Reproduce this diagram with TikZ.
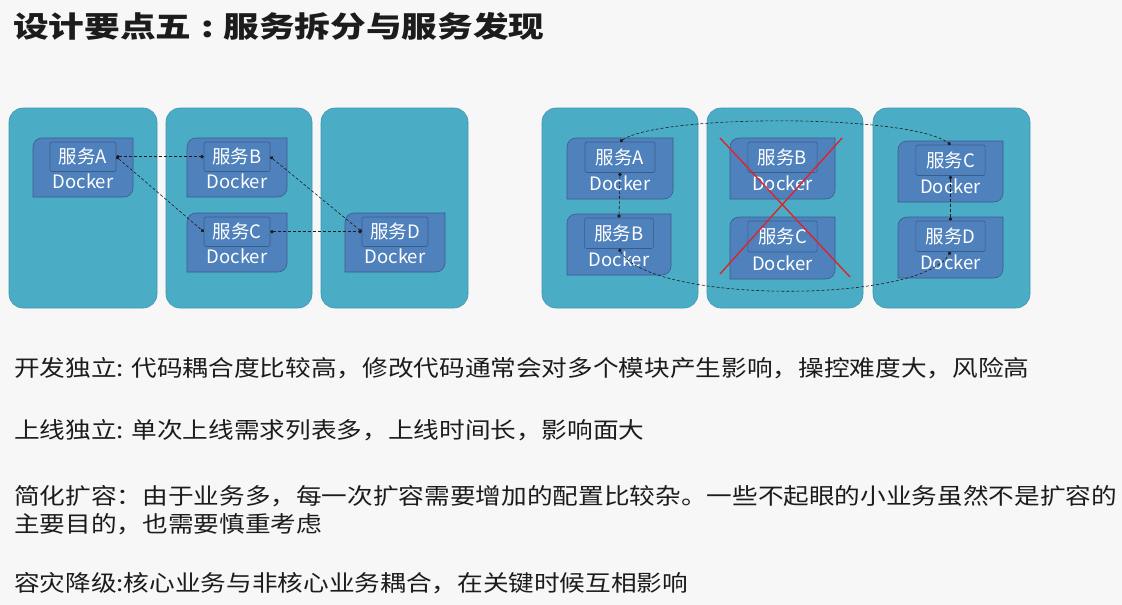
\documentclass[tikz,border=0pt]{standalone}
\usepackage{fontspec}
\setmainfont{Noto Sans CJK SC}
\newfontfamily\bodyfont{Noto Sans CJK SC}[FakeStretch=1.14]
\newfontfamily\titlefont{Noto Sans CJK SC}[FakeStretch=1.23]
\usetikzlibrary{arrows.meta}
\definecolor{bg}{RGB}{247,247,247}
\definecolor{panel}{RGB}{75,172,198}
\definecolor{panelline}{RGB}{62,150,176}
\definecolor{dock}{RGB}{79,129,189}
\definecolor{dockline}{RGB}{56,93,138}
\definecolor{crossred}{RGB}{218,38,44}
\definecolor{ink}{RGB}{28,28,28}
\tikzset{
  panelbox/.style={fill=panel, draw=panelline, line width=0.6pt, rounded corners=14},
  dockbox/.style={fill=dock, draw=dockline, line width=0.6pt},
  svcbox/.style={fill=dock, draw=dockline, line width=0.6pt, rounded corners=2, inner sep=0pt,
    text=white, font=\fontsize{18.5}{20}\selectfont},
  docktext/.style={text=white, inner sep=0pt, font=\fontsize{18.5}{20}\selectfont},
  link/.style={densely dashed, draw=ink, line width=0.6pt, {Circle[length=3.4pt]}-{Circle[length=3.4pt]}},
  crossline/.style={draw=crossred, line width=1.4pt},
  bodytext/.style={anchor=west, inner sep=0pt, text=ink, font=\bodyfont\fontsize{22.5}{27}\selectfont}
}
% name, x, y, w, h, label
\newcommand{\docker}[6]{%
  \filldraw[dockbox] (#2,-#3-9) arc[start angle=180, end angle=90, radius=9] -- (#2+#4,-#3)
    -- (#2+#4,-#3-#5+9) arc[start angle=0, end angle=-90, radius=9] -- (#2,-#3-#5) -- cycle;
  \node[svcbox, minimum width=0.66*#4, minimum height=0.5*#5] (#1) at (#2+0.5*#4,-#3-4-0.25*#5) {#6};
  \node[docktext] (#1d) at (#2+0.5*#4,-#3-0.74*#5) {Docker};
}
\begin{document}
\begin{tikzpicture}[x=1pt, y=1pt]
  \useasboundingbox (0,0) rectangle (1122,-605);
  \fill[bg] (0,0) rectangle (1122,-605);

  \node[anchor=west, inner sep=0pt, text=ink, font=\titlefont\fontsize{29}{34}\selectfont\bfseries] (title) at (13,-26) {设计要点五\makebox[1.1em]{:}服务拆分与服务发现};

  \draw[panelbox] (9,-108) rectangle (157,-308);
  \draw[panelbox] (166,-108) rectangle (312,-308);
  \draw[panelbox] (321,-108) rectangle (468,-308);
  \draw[panelbox] (542,-108) rectangle (698,-308);
  \draw[panelbox] (707,-108) rectangle (863,-308);
  \draw[panelbox] (873,-108) rectangle (1030,-308);

  \docker{lA}{33}{138}{100}{59}{服务A}
  \docker{lB}{187}{138}{100}{59}{服务B}
  \docker{lC}{187}{213}{100}{59}{服务C}
  \docker{lD}{345}{213}{100}{59}{服务D}

  \docker{rA}{567}{138}{106}{61}{服务A}
  \docker{rB}{567}{214}{104}{61}{服务B}
  \docker{xB}{730}{138}{105}{61}{服务B}
  \docker{xC}{730}{217}{105}{62}{服务C}
  \docker{rC}{898}{141}{105}{61}{服务C}
  \docker{rD}{898}{217}{105}{61}{服务D}

  \draw[link] (lA.east) -- (lB.west);
  \draw[link] (lA.east) -- (lC.west);
  \draw[link] (lB.east) -- (lD.west);
  \draw[link] (lC.east) -- (lD.west);

  \draw[link] (rA.south) -- (rB.north);
  \draw[link] (rC.south) -- (rD.north);
  \draw[link] (rA.north) .. controls (660,-114) and (910,-114) .. (rC.north);
  \draw[link] (rB.south) .. controls (650,-304) and (920,-304) .. (rD.south);

  \draw[crossline] (720,-138) -- (850,-277);
  \draw[crossline] (842,-138) -- (720,-274);

  \node[bodytext] (t1) at (14,-368) {开发独立: 代码耦合度比较高，修改代码通常会对多个模块产生影响，操控难度大，风险高};
  \node[bodytext] (t2) at (14,-430) {上线独立: 单次上线需求列表多，上线时间长，影响面大};
  \node[bodytext] (t3) at (14,-496) {简化扩容：由于业务多，每一次扩容需要增加的配置比较杂。一些不起眼的小业务虽然不是扩容的};
  \node[bodytext] (t4) at (14,-524) {主要目的，也需要慎重考虑};
  \node[bodytext] (t5) at (14,-583) {容灾降级:核心业务与非核心业务耦合，在关键时候互相影响};
\end{tikzpicture}
\end{document}
